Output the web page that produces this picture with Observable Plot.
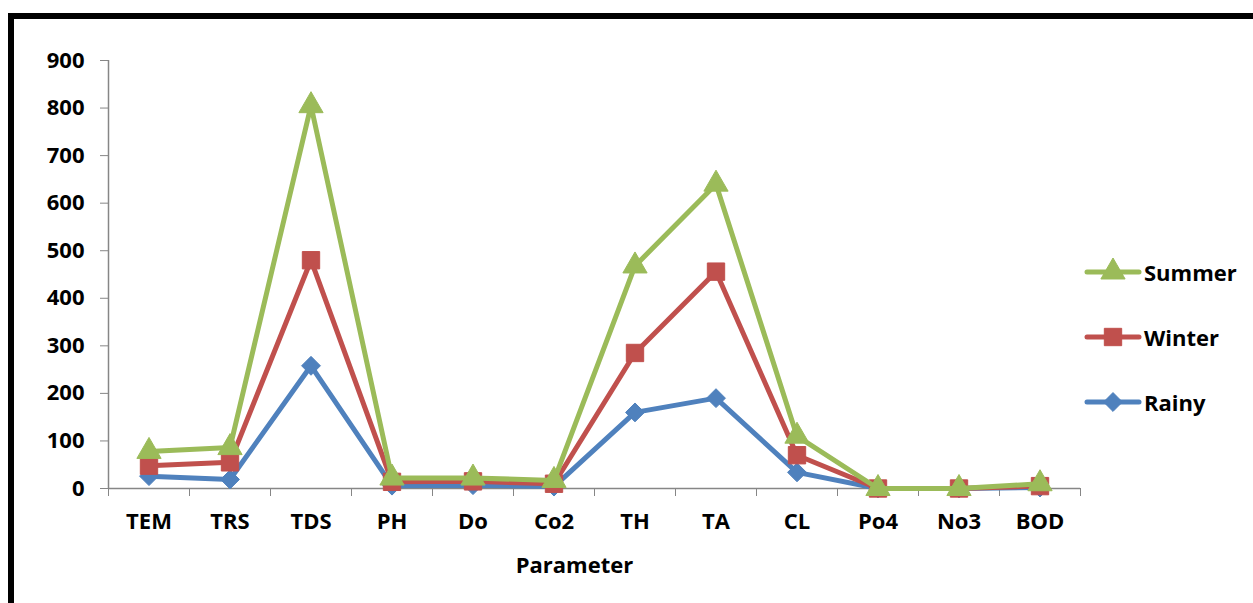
<!DOCTYPE html>
<html>
<head>
<meta charset="utf-8">
<script src="https://cdn.jsdelivr.net/npm/d3@7"></script>
<script src="https://cdn.jsdelivr.net/npm/@observablehq/plot@0.6"></script>
<style>
  html, body { margin: 0; padding: 0; background: #fff; overflow: hidden; }
  #wrap { position: relative; width: 1253px; height: 603px; overflow: hidden; font-family: "Open Sans", Lato, sans-serif; }
  #frame { position: absolute; left: 8px; top: 13px; width: 1400px; height: 800px; border: 6px solid #000; box-sizing: border-box; }
  #chart { position: absolute; left: 0; top: 0; }
  #legend { position: absolute; left: 1084px; top: 256px; }
  .item { display: flex; align-items: center; height: 32px; margin-bottom: 33px; font-weight: bold; font-size: 22px; color: #000; }
  .item svg { margin-right: 2px; }
</style>
</head>
<body>
<div id="wrap">
  <div id="frame"></div>
  <div id="chart"></div>
  <div id="legend"></div>
</div>
<script>
const categories = ["TEM","TRS","TDS","PH","Do","Co2","TH","TA","CL","Po4","No3","BOD"];
const summer = [78, 86, 805, 22, 22, 17, 468, 640, 110, 0, 0, 10];
const winter = [48, 55, 480, 14, 15, 10, 285, 456, 70, 0, 0, 5];
const rainy  = [26, 19, 258, 6, 7, 4, 160, 190, 34, 0, 0, 2];
const seriesNames = ["Rainy", "Winter", "Summer"];
const seriesValues = [rainy, winter, summer];
const seriesColors = ["#4F81BD", "#C0504D", "#9BBB59"];
const seriesSymbols = ["diamond2", "square", "triangle"];
const yTicks = d3.range(0, 901, 100);
const axisLabel = "Parameter";

const gray = "#868686";
const n = categories.length;
const boundaries = d3.range(n + 1).map(i => i - 0.5);
const symR = {diamond2: 8.5, square: 9.8, triangle: 9};

const marks = [
  Plot.axisY({ticks: yTicks, tickSize: 8, tickPadding: 16, stroke: gray, fill: "#000",
    fontSize: 22, fontWeight: "bold", label: null}),
  Plot.axisX({ticks: boundaries, tickSize: 8, tickFormat: () => "", stroke: gray, label: null}),
  Plot.axisX({ticks: d3.range(n), tickSize: 0, tickPadding: 25, tickFormat: i => categories[i],
    fill: "#000", fontSize: 22, fontWeight: "bold", label: axisLabel, labelAnchor: "center",
    labelArrow: "none", labelOffset: 84, dx: 0}),
  Plot.ruleX([boundaries[0]], {y1: yTicks[0], y2: yTicks[yTicks.length - 1], stroke: gray, strokeWidth: 1.5}),
  Plot.ruleY([0], {x1: boundaries[0], x2: boundaries[n], stroke: gray, strokeWidth: 1.5})
];

seriesNames.forEach((name, s) => {
  const data = seriesValues[s].map((v, i) => ({i, v}));
  marks.push(Plot.line(data, {x: "i", y: "v", stroke: seriesColors[s], strokeWidth: 5,
    strokeLinejoin: "round", strokeLinecap: "round"}));
  marks.push(Plot.dot(data, {x: "i", y: "v", symbol: () => seriesSymbols[s], r: symR[seriesSymbols[s]],
    fill: seriesColors[s], stroke: seriesColors[s], strokeWidth: 1}));
});

const plot = Plot.plot({
  width: 1253, height: 603,
  marginLeft: 108, marginRight: 173, marginTop: 60, marginBottom: 115,
  x: {domain: [boundaries[0], boundaries[n]], axis: null},
  y: {domain: [yTicks[0], yTicks[yTicks.length - 1]], axis: null},
  symbol: {type: "identity"},
  style: {fontFamily: "'Open Sans', Lato, sans-serif", fontSize: "22px", background: "transparent", overflow: "visible"},
  marks
});
document.getElementById("chart").appendChild(plot);

// Shift the axis label to match the reference's centring
plot.querySelectorAll("[aria-label='x-axis label'] text").forEach(t => {
  t.setAttribute("transform", (t.getAttribute("transform") || "") + " translate(-20,0)");
});

// Legend (Summer, Winter, Rainy top to bottom)
const legend = document.getElementById("legend");
const symMap = {diamond2: d3.symbolDiamond2, square: d3.symbolSquare, triangle: d3.symbolTriangle};
[2, 1, 0].forEach(s => {
  const item = document.createElement("div");
  item.className = "item";
  const r = symR[seriesSymbols[s]];
  const path = d3.symbol(symMap[seriesSymbols[s]], Math.PI * r * r)();
  item.innerHTML = `<svg width="58" height="32"><line x1="3" x2="55" y1="16" y2="16" stroke="${seriesColors[s]}" stroke-width="5" stroke-linecap="round"/><path transform="translate(29,16)" d="${path}" fill="${seriesColors[s]}" stroke="${seriesColors[s]}"/></svg><span>${seriesNames[s]}</span>`;
  legend.appendChild(item);
});
</script>
</body>
</html>
